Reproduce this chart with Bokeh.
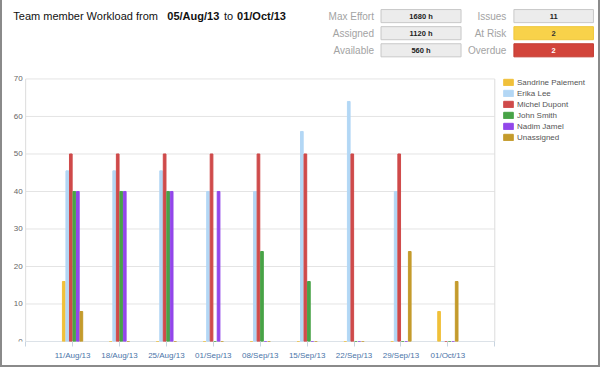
from bokeh.plotting import figure
from bokeh.models import Range1d, FixedTicker, Legend, LegendItem, ColumnDataSource
from bokeh.core.properties import value
from bokeh.embed import file_html
from bokeh.resources import INLINE

# ---------------- data ----------------
weeks = ["11/Aug/13", "18/Aug/13", "25/Aug/13", "01/Sep/13", "08/Sep/13",
         "15/Sep/13", "22/Sep/13", "29/Sep/13", "01/Oct/13"]
members = ["Sandrine Paiement", "Erika Lee", "Michel Dupont", "John Smith",
           "Nadim Jamel", "Unassigned"]
sandrine = [16, 0, 0, 0, 0, 0, 0, 0, 8]
erika = [45.5, 45.5, 45.5, 40, 40, 56, 64, 40, 0]
michel = [50, 50, 50, 50, 50, 50, 50, 50, 0]
john = [40, 40, 40, 0, 24, 16, 0, 0, 0]
nadim = [40, 40, 40, 40, 0, 0, 0, 0, 0]
unassigned = [8, 0, 0, 0, 0, 0, 0, 24, 16]
series = [sandrine, erika, michel, john, nadim, unassigned]
colors = ["#f0c03a", "#b3d7f5", "#cf4a4a", "#48a347", "#9247ea", "#c49b2c"]

y_ticks = [0, 10, 20, 30, 40, 50, 60, 70]
y_max = 70

title_parts = ["Team member Workload from", "05/Aug/13", "to", "01/Oct/13"]
title_bold = [False, True, False, True]
stat_labels_left = ["Max Effort", "Assigned", "Available"]
stat_values_left = ["1680 h", "1120 h", "560 h"]
stat_labels_right = ["Issues", "At Risk", "Overdue"]
stat_values_right = ["11", "2", "2"]

FONT = "Liberation Sans"
FRAME_COL = "#8a8a8a"

# ---------------- geometry (page pixels) ----------------
W, H = 600, 367
BW = 2                        # outer border width (CSS)
CW, CHt = W - 2 * BW, H - BW  # canvas size
PL, PR = 25, 491              # plot area left/right (page x)
PT, PB = 78, 339              # plot area top/bottom (page y)
FR_L = BW                     # frame left (page)
FR_R = W - BW                 # frame right (page)
n_slots = len(weeks) + 1

x_start = -n_slots * (PL - FR_L) / (PR - PL)
x_end = n_slots * (FR_R - PL) / (PR - PL)
y_end = y_max * PB / (PB - PT)

p = figure(width=CW, height=CHt, output_backend="svg", toolbar_location=None,
           x_range=Range1d(x_start, x_end), y_range=Range1d(0, y_end),
           min_border_left=0, min_border_right=0, min_border_top=0,
           min_border_bottom=CHt - PB, background_fill_color="white",
           border_fill_color="white")
p.outline_line_color = None
p.styles = {"border-left": f"{BW}px solid {FRAME_COL}",
            "border-right": f"{BW}px solid {FRAME_COL}",
            "border-bottom": f"{BW}px solid {FRAME_COL}",
            "box-sizing": "content-box"}
p.extra_x_ranges = {"px": Range1d(FR_L, FR_R)}
p.extra_y_ranges = {"px": Range1d(PB, 0)}

# x axis
p.xaxis.ticker = FixedTicker(ticks=list(range(0, n_slots + 1)))
overrides = {0: "", n_slots: ""}
for i, w in enumerate(weeks):
    overrides[i + 1] = w
p.xaxis.major_label_overrides = overrides
p.xaxis.axis_line_color = None
p.xaxis.major_tick_line_color = "#c8d4e0"
p.xaxis.major_tick_out = 5
p.xaxis.major_tick_in = 0
p.xaxis.minor_tick_line_color = None
p.xaxis.major_label_text_color = "#4a74a8"
p.xaxis.major_label_text_font = FONT
p.xaxis.major_label_text_font_size = "8px"
p.xaxis.major_label_standoff = 4
p.xgrid.grid_line_color = None

# y axis (drawn at x = 0 of the data, inside the canvas)
p.yaxis.fixed_location = 0
p.yaxis.ticker = FixedTicker(ticks=y_ticks)
p.yaxis.axis_line_color = None
p.yaxis.major_tick_line_color = None
p.yaxis.major_tick_out = 0
p.yaxis.major_tick_in = 0
p.yaxis.minor_tick_line_color = None
p.yaxis.major_label_text_color = "#666666"
p.yaxis.major_label_text_font = FONT
p.yaxis.major_label_text_font_size = "8px"
p.yaxis.major_label_standoff = 3
p.ygrid.grid_line_color = None

# plot-area furniture (grid, frame, x axis line)
p.segment(x0=[0] * len(y_ticks), x1=[n_slots] * len(y_ticks), y0=y_ticks, y1=y_ticks,
          line_color="#e4e4e4", line_width=1)
p.segment(x0=[0, n_slots], x1=[0, n_slots], y0=[0, 0], y1=[y_max, y_max],
          line_color="#dcdcdc", line_width=1)
p.segment(x0=[0], x1=[n_slots], y0=[0], y1=[0], line_color="#c8d4e0", line_width=1)

# bars
bar_step = 0.075
bar_w = 0.057
items = []
for k, (name, vals, col) in enumerate(zip(members, series, colors)):
    xs = [i + 1 + (k - 2.5) * bar_step for i in range(len(weeks))]
    src = ColumnDataSource(dict(x=xs, top=vals))
    r = p.vbar(x="x", top="top", bottom=0, width=bar_w, source=src,
               fill_color=col, line_color=col, line_width=1)
    items.append(LegendItem(label=name, renderers=[r]))

leg = Legend(items=items, location=(500, 199), orientation="vertical",
             glyph_width=12, glyph_height=8, label_height=10, spacing=1,
             label_standoff=3, padding=0, margin=0,
             label_text_font=FONT, label_text_font_size="8px",
             label_text_color="#555555", border_line_color=None,
             background_fill_alpha=0)
p.add_layout(leg, "center")

# ---------------- header (page pixel coordinates) ----------------
PX = dict(x_range_name="px", y_range_name="px")
title_x = [12.7, 165.7, 222, 235]
for txt, X, bold in zip(title_parts, title_x, title_bold):
    p.text(x=[X], y=[15], text=[txt], text_font=value(FONT), text_font_size="11px",
           text_font_style="bold" if bold else "normal", text_color="#111111",
           text_baseline="middle", text_align="left", **PX)

row_y = [15.5, 32.5, 49.5]
left_fill = ["#ececec"] * 3
left_line = ["#c8c8c8"] * 3
right_fill = ["#ececec", "#f8d24a", "#d2453b"]
right_line = ["#c8c8c8", "#efc73c", "#c33c32"]
right_text = ["#222222", "#333333", "#ffffff"]

lab_r1, box1_l, box1_r = 371, 378, 457.5
lab_r2, box2_l, box2_r = 502.5, 510, 589

p.text(x=[lab_r1] * 3, y=row_y, text=stat_labels_left, text_font=value(FONT),
       text_font_size="10px", text_color="#a3a3a3", text_align="right",
       text_baseline="middle", **PX)
p.text(x=[lab_r2] * 3, y=row_y, text=stat_labels_right, text_font=value(FONT),
       text_font_size="10px", text_color="#a3a3a3", text_align="right",
       text_baseline="middle", **PX)
p.quad(left=[box1_l] * 3, right=[box1_r] * 3, top=[y - 6.5 for y in row_y],
       bottom=[y + 6.5 for y in row_y], fill_color=left_fill, line_color=left_line,
       line_width=1, **PX)
p.quad(left=[box2_l] * 3, right=[box2_r] * 3, top=[y - 6.5 for y in row_y],
       bottom=[y + 6.5 for y in row_y], fill_color=right_fill, line_color=right_line,
       line_width=1, **PX)
p.text(x=[(box1_l + box1_r) / 2] * 3, y=row_y, text=stat_values_left, text_font=value(FONT),
       text_font_size="7.5px", text_font_style="bold", text_color="#222222",
       text_align="center", text_baseline="middle", **PX)
p.text(x=[(box2_l + box2_r) / 2] * 3, y=row_y, text=stat_values_right, text_font=value(FONT),
       text_font_size="7.5px", text_font_style="bold", text_color=right_text,
       text_align="center", text_baseline="middle", **PX)

open("out.html", "w").write(file_html(p, INLINE))
